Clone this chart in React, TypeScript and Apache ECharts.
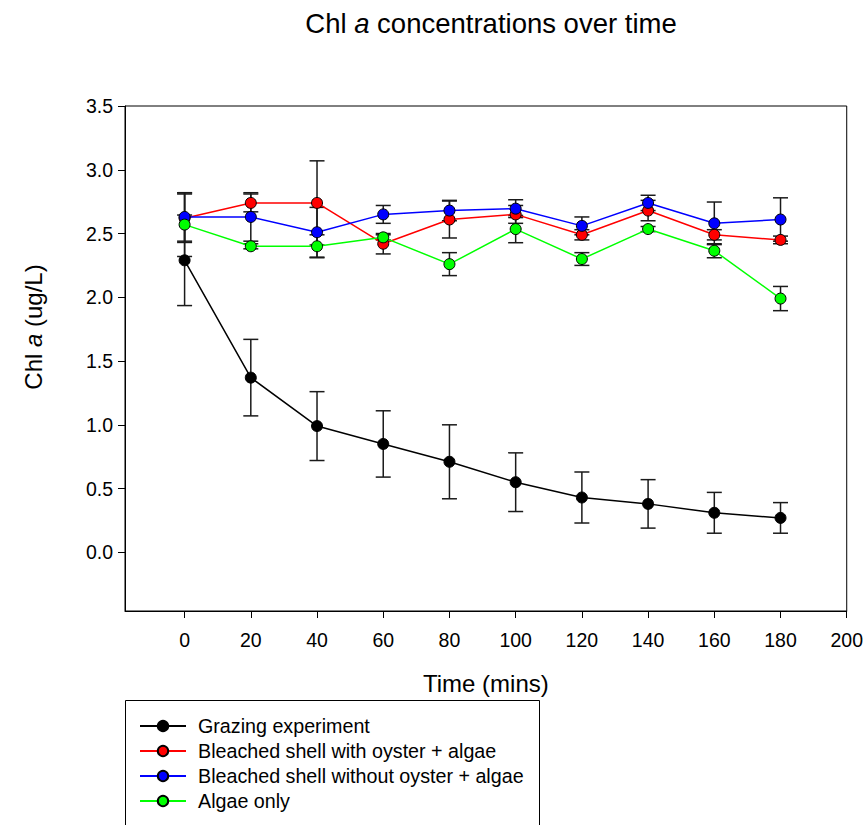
import React, { useEffect, useRef } from "react";
import * as echarts from "echarts";

const times = [0, 20, 40, 60, 80, 100, 120, 140, 160, 180];
const grazing = [2.29, 1.37, 0.99, 0.85, 0.71, 0.55, 0.43, 0.38, 0.31, 0.27];
const grazingErr = [0.355, 0.3, 0.27, 0.26, 0.29, 0.23, 0.2, 0.19, 0.16, 0.12];
const withOyster = [2.62, 2.74, 2.74, 2.42, 2.61, 2.65, 2.49, 2.68, 2.49, 2.45];
const withOysterErr = [0.19, 0.07, 0.33, 0.08, 0.145, 0.07, 0.04, 0.08, 0.04, 0.03];
const withoutOyster = [2.63, 2.63, 2.51, 2.65, 2.68, 2.695, 2.56, 2.74, 2.58, 2.61];
const withoutOysterErr = [0.19, 0.19, 0.195, 0.07, 0.08, 0.07, 0.07, 0.06, 0.167, 0.17];
const algaeOnly = [2.57, 2.4, 2.4, 2.47, 2.26, 2.535, 2.3, 2.535, 2.365, 1.99];
const algaeOnlyErr = [0.25, 0.02, 0.09, 0.02, 0.09, 0.107, 0.05, 0.02, 0.055, 0.095];

const seriesNames = [
  "Grazing experiment",
  "Bleached shell with oyster + algae",
  "Bleached shell without oyster + algae",
  "Algae only",
];
const xTicks = [0, 20, 40, 60, 80, 100, 120, 140, 160, 180, 200];
const yTicks = [0, 0.5, 1.0, 1.5, 2.0, 2.5, 3.0, 3.5];

const FONT = "'Liberation Sans', Arial, Helvetica, sans-serif";

export default function App() {
  const ref = useRef<HTMLDivElement>(null);
  useEffect(() => {
    document.body.style.margin = "0";
    if (!ref.current) return;
    const chart = echarts.init(ref.current, undefined, { renderer: "svg" });

    const groups = [
      { name: seriesNames[0], vals: grazing, errs: grazingErr, color: "#000000" },
      { name: seriesNames[1], vals: withOyster, errs: withOysterErr, color: "#ff0000" },
      { name: seriesNames[2], vals: withoutOyster, errs: withoutOysterErr, color: "#0000ff" },
      { name: seriesNames[3], vals: algaeOnly, errs: algaeOnlyErr, color: "#00ff00" },
    ];

    const errSeries = groups.map((g) => ({
      type: "custom",
      z: 1,
      silent: true,
      data: times.map((t, i) => [t, g.vals[i] - g.errs[i], g.vals[i] + g.errs[i]]),
      encode: { x: 0, y: [1, 2] },
      renderItem: (_params: any, api: any) => {
        const x = api.value(0);
        const lo = api.coord([x, api.value(1)]);
        const hi = api.coord([x, api.value(2)]);
        const hw = 7.5;
        const style = { stroke: "#1a1a1a", lineWidth: 1.5 };
        return {
          type: "group",
          children: [
            { type: "line", shape: { x1: lo[0], y1: lo[1], x2: hi[0], y2: hi[1] }, style },
            { type: "line", shape: { x1: lo[0] - hw, y1: lo[1], x2: lo[0] + hw, y2: lo[1] }, style },
            { type: "line", shape: { x1: hi[0] - hw, y1: hi[1], x2: hi[0] + hw, y2: hi[1] }, style },
          ],
        };
      },
    }));

    const lineSeries = groups.map((g) => ({
      type: "line",
      name: g.name,
      z: 3,
      data: times.map((t, i) => [t, g.vals[i]]),
      symbol: "circle",
      symbolSize: 11,
      lineStyle: { color: g.color, width: 1.5 },
      itemStyle: { color: g.color, borderColor: "#000000", borderWidth: 1 },
    }));

    chart.setOption({
      animation: false,
      backgroundColor: "#ffffff",
      title: {
        text: "Chl {i|a} concentrations over time",
        left: 486,
        top: 4,
        textAlign: "center",
        textStyle: {
          fontFamily: FONT,
          fontSize: 27.5,
          fontWeight: "normal",
          color: "#000",
          rich: {
            i: { fontFamily: FONT, fontSize: 27.5, fontStyle: "italic", color: "#000" },
          },
        },
      },
      grid: {
        left: 125,
        top: 106,
        right: 19,
        bottom: 214,
        show: true,
        borderColor: "#000",
        borderWidth: 1,
        backgroundColor: "transparent",
      },
      xAxis: {
        type: "value",
        min: -18,
        max: 200,
        name: "Time (mins)",
        nameLocation: "middle",
        nameGap: 60,
        nameTextStyle: { fontFamily: FONT, fontSize: 24, color: "#000" },
        axisLine: { show: true, onZero: false, lineStyle: { color: "#000", width: 1 } },
        axisTick: { show: true, length: 7, customValues: xTicks, lineStyle: { color: "#000" } },
        axisLabel: {
          customValues: xTicks,
          margin: 19,
          fontFamily: FONT,
          fontSize: 19.5,
          color: "#000",
        },
        splitLine: { show: false },
      },
      yAxis: {
        type: "value",
        min: -0.46,
        max: 3.5,
        axisLine: { show: true, onZero: false, lineStyle: { color: "#000", width: 1 } },
        axisTick: { show: true, length: 7, customValues: yTicks, lineStyle: { color: "#000" } },
        axisLabel: {
          customValues: yTicks,
          margin: 12,
          fontFamily: FONT,
          fontSize: 19.5,
          color: "#000",
          formatter: (v: number) => v.toFixed(1),
        },
        splitLine: { show: false },
      },
      legend: {
        data: seriesNames,
        orient: "vertical",
        left: 125,
        top: 700,
        padding: [16, 15, 0, 14],
        itemWidth: 46,
        itemHeight: 13,
        itemGap: 5,
        textStyle: {
          fontFamily: FONT,
          fontSize: 19.7,
          lineHeight: 20,
          color: "#000",
          padding: [0, 0, 0, 7],
        },
      },
      graphic: [
        {
          type: "rect",
          shape: { x: 125.5, y: 700.5, width: 414, height: 200 },
          style: { fill: "none", stroke: "#000", lineWidth: 1 },
          silent: true,
        },
        {
          type: "text",
          x: 33,
          y: 327,
          rotation: Math.PI / 2,
          style: {
            text: "Chl {i|a} (ug/L)",
            fontFamily: FONT,
            fontSize: 24,
            fill: "#000",
            align: "center",
            verticalAlign: "middle",
            rich: { i: { fontFamily: FONT, fontSize: 24, fontStyle: "italic", fill: "#000" } },
          },
        },
      ],
      series: [...errSeries, ...lineSeries],
    });
    return () => chart.dispose();
  }, []);
  return <div ref={ref} style={{ width: 866, height: 825 }} />;
}
